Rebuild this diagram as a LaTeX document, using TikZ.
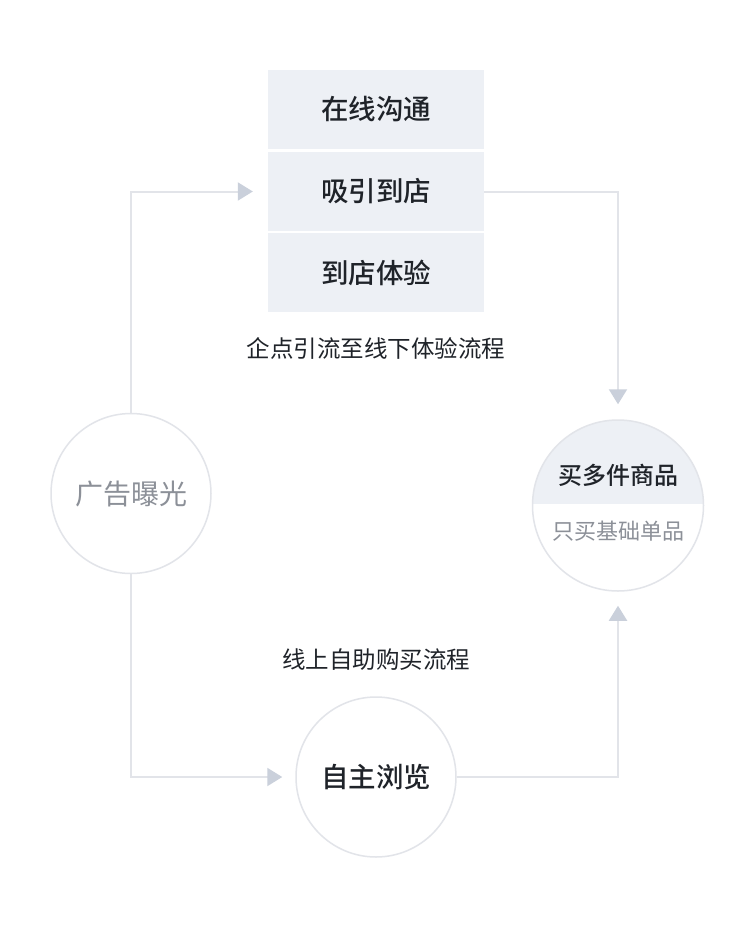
\documentclass[tikz,border=0pt]{standalone}
\usepackage{fontspec}
\setmainfont{Noto Sans CJK SC}[BoldFont={Noto Sans CJK SC Medium}]
\usetikzlibrary{arrows.meta}
\definecolor{boxfill}{HTML}{EDF0F5}
\definecolor{linec}{HTML}{E2E4E9}
\definecolor{arrowc}{HTML}{CAD0DB}
\definecolor{darkt}{HTML}{1F2329}
\definecolor{grayt}{HTML}{8C9098}
\begin{document}
\begin{tikzpicture}[x=1pt,y=-1pt,
  stepbox/.style={fill=boxfill, minimum width=216pt, minimum height=79pt, inner sep=0pt,
    text=darkt, font=\fontsize{27.5}{30}\selectfont\bfseries},
  circ/.style={circle, draw=linec, line width=1.5pt, inner sep=0pt},
  conn/.style={draw=linec, line width=2pt, -{Triangle[length=15pt,width=18pt,color=arrowc]}},
  lbl/.style={text=darkt, font=\fontsize{23.5}{28}\selectfont, inner sep=0pt}]
\useasboundingbox (0,0) rectangle (750,927);
\fill[white] (0,0) rectangle (750,927);
% stacked boxes
\node[stepbox] (b1) at (376,109.5) {在线沟通};
\node[stepbox] (b2) at (376,191.5) {吸引到店};
\node[stepbox] (b3) at (376,272.5) {到店体验};
\node[lbl] (t1) at (376,348) {企点引流至线下体验流程};
\node[lbl] (t2) at (376,660) {线上自助购买流程};
% left circle
\node[circ, minimum size=160pt, text=grayt, font=\fontsize{28}{32}\selectfont] (lc) at (131,493.5) {广告曝光};
% bottom circle
\node[circ, minimum size=160pt, text=darkt, font=\fontsize{27.5}{32}\selectfont\bfseries] (bc) at (376,777) {自主浏览};
% right circle with filled top half
\begin{scope}
  \clip (618,505.5) circle[radius=85.5pt];
  \fill[boxfill] (520,410) rectangle (715,504);
\end{scope}
\node[circ, minimum size=171pt] (rc) at (618,505.5) {};
\node[text=darkt, font=\fontsize{24}{28}\selectfont\bfseries, inner sep=0pt] (rct) at (618,475) {买多件商品};
\node[text=grayt, font=\fontsize{22}{26}\selectfont, inner sep=0pt] (rcb) at (618,531) {只买基础单品};
% connectors
\draw[conn] (lc.north) |- ([xshift=-15pt]b2.west);
\draw[conn] (b2.east) -| ([yshift=15pt]rc.north);
\draw[conn] (lc.south) |- ([xshift=-13pt]bc.west);
\draw[conn] (bc.east) -| ([yshift=-14pt]rc.south);
\end{tikzpicture}
\end{document}
